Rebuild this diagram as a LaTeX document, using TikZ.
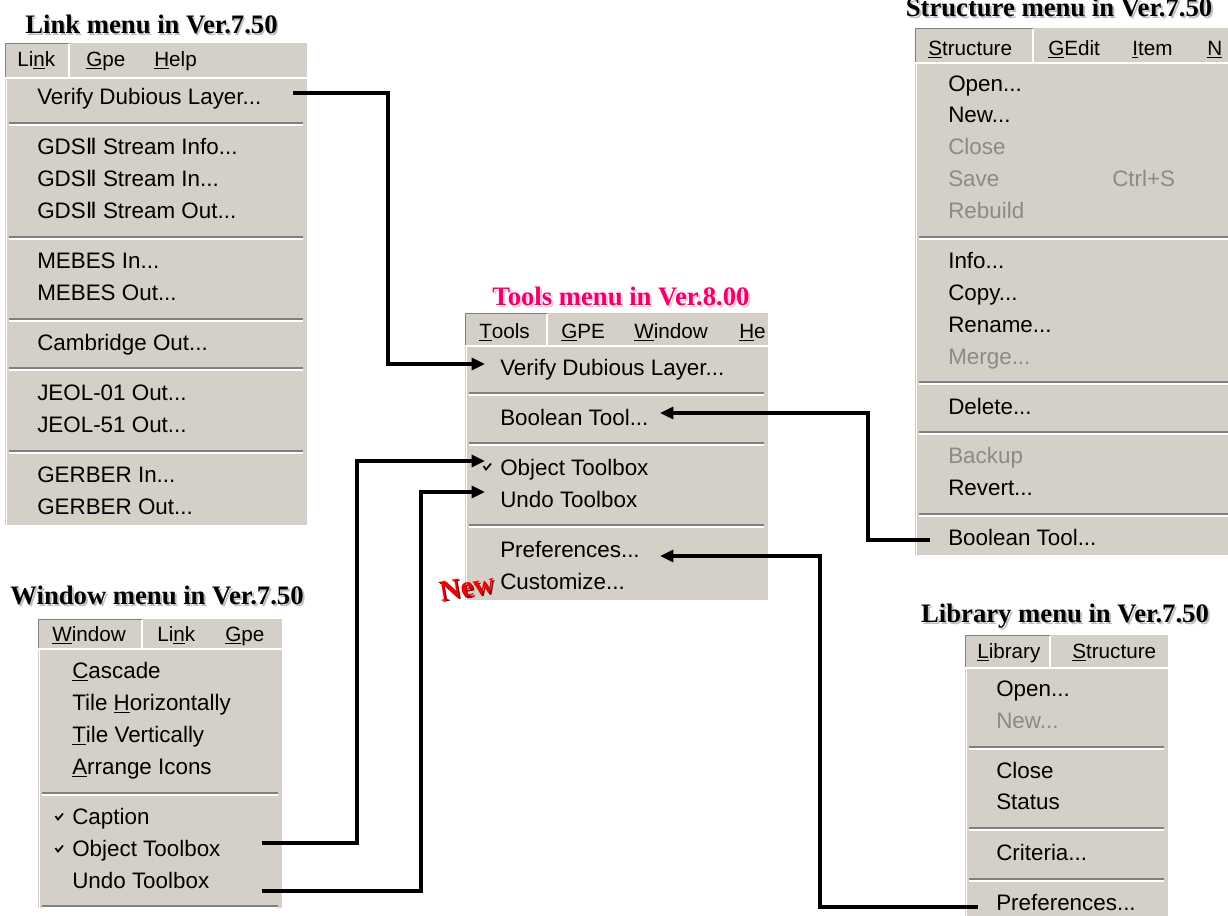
\documentclass[tikz,border=0pt]{standalone}
\usepackage{fontspec}
\setmainfont{Liberation Serif}
\newfontfamily\ui{Liberation Sans}
\newfontfamily\dv{DejaVu Sans}
\usetikzlibrary{arrows.meta}
\definecolor{menugray}{HTML}{D4D0C8}
\definecolor{sepgray}{HTML}{808080}
\definecolor{disgray}{HTML}{8C8A84}
\definecolor{toolpink}{HTML}{F0006C}
\definecolor{newred}{HTML}{F00000}
\newcommand\mn[1]{\underline{#1}}
\newcommand\two{{\dv Ⅱ}}
% x1 x2 bartop barbottom boxright bodybottom
\newcommand\menubox[6]{%
  \fill[menugray] (#1,#3) rectangle (#2,#6);
  \draw[white, line width=1.2pt] (#1,#4+1) -- (#2,#4+1);
  \draw[white, line width=1.2pt] (#5,#3+1) -- (#5,#4);
  \draw[sepgray, line width=0.8pt] (#1+0.5,#4) -- (#1+0.5,#3+0.5) -- (#5,#3+0.5);
  \draw[white, line width=1.2pt] (#1+1.5,#4+2) -- (#1+1.5,#6);
}
\newcommand\msep[3]{%
  \draw[sepgray, line width=1.4pt] (#1,#3) -- (#2,#3);
  \draw[white, line width=1.2pt] (#1,#3+2) -- (#2,#3+2);
}
\newcommand\tick[2]{%
  \draw[black, line width=1.3pt] (#1-3.5,#2-1) -- (#1-1,#2+2.5) -- (#1+4,#2-3.5);
}
\tikzset{
  itemtxt/.style={font=\ui\fontsize{16.8}{20}\selectfont, inner sep=0pt, anchor=base west, text=black},
  distxt/.style={itemtxt, text=disgray},
  bartxt/.style={font=\ui\fontsize{15.5}{18}\selectfont, inner sep=0pt, anchor=base west, text=black},
  title/.style={font=\bfseries\fontsize{20}{24}\selectfont, inner sep=0pt, anchor=base},
  shadowtxt/.style={title, text=black!25},
  newtxt/.style={font=\bfseries\fontsize{22}{26}\selectfont, inner sep=0pt, anchor=base west, rotate=10},
  conn/.style={line width=2.3pt, -{Triangle[length=10pt,width=9pt]}},
}
\begin{document}
\begin{tikzpicture}[x=0.75pt,y=-0.75pt]
\useasboundingbox (0,0) rectangle (1228,915);
\clip (0,0) rectangle (1228,915);
\fill[white] (0,0) rectangle (1228,915);

% ---------------- Link menu ----------------
\node[shadowtxt] (tLinkS) at (153,35) {Link menu in Ver.7.50};
\node[title] (tLink) at (151.5,33) {Link menu in Ver.7.50};
\menubox{5}{307}{43}{77}{69}{525}
\node[bartxt] (lkLink) at (17,66) {Li\mn{n}k};
\node[bartxt] (lkGpe) at (86,66) {\mn{G}pe};
\node[bartxt] (lkHelp) at (154,66) {\mn{H}elp};
\node[itemtxt] (lkVerify) at (37,104) {Verify Dubious Layer...};
\msep{9}{303}{123}
\node[itemtxt] (lkG1) at (37,154) {GDS\two{} Stream Info...};
\node[itemtxt] (lkG2) at (37,186) {GDS\two{} Stream In...};
\node[itemtxt] (lkG3) at (37,218) {GDS\two{} Stream Out...};
\msep{9}{303}{237}
\node[itemtxt] (lkM1) at (37,268) {MEBES In...};
\node[itemtxt] (lkM2) at (37,300) {MEBES Out...};
\msep{9}{303}{319}
\node[itemtxt] (lkC) at (37,350) {Cambridge Out...};
\msep{9}{303}{368}
\node[itemtxt] (lkJ1) at (37,400) {JEOL-01 Out...};
\node[itemtxt] (lkJ2) at (37,432) {JEOL-51 Out...};
\msep{9}{303}{451}
\node[itemtxt] (lkGe1) at (37,482) {GERBER In...};
\node[itemtxt] (lkGe2) at (37,514) {GERBER Out...};

% ---------------- Window menu ----------------
\node[shadowtxt] (tWinS) at (159,606) {Window menu in Ver.7.50};
\node[title] (tWin) at (157,604) {Window menu in Ver.7.50};
\menubox{38}{282}{619}{648}{142}{908}
\node[bartxt] (wWindow) at (52,641) {\mn{W}indow};
\node[bartxt] (wLink) at (157,641) {Li\mn{n}k};
\node[bartxt] (wGpe) at (225,641) {\mn{G}pe};
\node[itemtxt] (wCascade) at (72,678) {\mn{C}ascade};
\node[itemtxt] (wTileH) at (72,710) {Tile \mn{H}orizontally};
\node[itemtxt] (wTileV) at (72,742) {\mn{T}ile Vertically};
\node[itemtxt] (wArr) at (72,774) {\mn{A}rrange Icons};
\msep{42}{278}{793}
\tick{59}{817}
\node[itemtxt] (wCaption) at (72,824) {Caption};
\tick{59}{849}
\node[itemtxt] (wObject) at (72,856) {Object Toolbox};
\node[itemtxt] (wUndo) at (72,888) {Undo Toolbox};
\msep{42}{278}{906}

% ---------------- Tools menu ----------------
\node[shadowtxt, text=toolpink!25] (tToolsS) at (623,307) {Tools menu in Ver.8.00};
\node[title, text=toolpink] (tTools) at (621,305) {Tools menu in Ver.8.00};
\menubox{465}{768}{313}{345}{547}{600}
\node[bartxt] (tlTools) at (479,338) {\mn{T}ools};
\node[bartxt] (tlGPE) at (561,338) {\mn{G}PE};
\node[bartxt] (tlWindow) at (634,338) {\mn{W}indow};
\node[bartxt] (tlHe) at (739,338) {\mn{H}e};
\node[itemtxt] (tlVerify) at (500,375) {Verify Dubious Layer...};
\msep{469}{764}{393}
\node[itemtxt] (tlBool) at (500,425) {Boolean Tool...};
\msep{469}{764}{443}
\tick{487}{467}
\node[itemtxt] (tlObject) at (500,475) {Object Toolbox};
\node[itemtxt] (tlUndo) at (500,507) {Undo Toolbox};
\msep{469}{764}{525}
\node[itemtxt] (tlPref) at (500,557) {Preferences...};
\node[itemtxt] (tlCust) at (500,589) {Customize...};
\node[newtxt, text=newred!60!black] (newS) at (442.5,603) {New};
\node[newtxt, text=newred] (new) at (441,601.5) {New};

% ---------------- Structure menu ----------------
\node[shadowtxt] (tStrS) at (1061,18) {Structure menu in Ver.7.50};
\node[title] (tStr) at (1059,16) {Structure menu in Ver.7.50};
\menubox{915}{1240}{28}{62}{1033}{555}
\node[bartxt] (sStructure) at (928,55) {\mn{S}tructure};
\node[bartxt] (sGEdit) at (1048,55) {\mn{G}Edit};
\node[bartxt] (sItem) at (1132,55) {\mn{I}tem};
\node[bartxt] (sN) at (1207,55) {\mn{N}};
\node[itemtxt] (sOpen) at (948,91) {Open...};
\node[itemtxt] (sNew) at (948,122) {New...};
\node[distxt] (sClose) at (948,154) {Close};
\node[distxt] (sSave) at (948,186) {Save};
\node[distxt] (sCtrl) at (1112,186) {Ctrl+S};
\node[distxt] (sRebuild) at (948,218) {Rebuild};
\msep{919}{1228}{237}
\node[itemtxt] (sInfo) at (948,268) {Info...};
\node[itemtxt] (sCopy) at (948,300) {Copy...};
\node[itemtxt] (sRename) at (948,332) {Rename...};
\node[distxt] (sMerge) at (948,364) {Merge...};
\msep{919}{1228}{382}
\node[itemtxt] (sDelete) at (948,414) {Delete...};
\msep{919}{1228}{432}
\node[distxt] (sBackup) at (948,463) {Backup};
\node[itemtxt] (sRevert) at (948,495) {Revert...};
\msep{919}{1228}{514}
\node[itemtxt] (sBool) at (948,545) {Boolean Tool...};

% ---------------- Library menu ----------------
\node[shadowtxt] (tLibS) at (1067,624) {Library menu in Ver.7.50};
\node[title] (tLib) at (1065,622) {Library menu in Ver.7.50};
\menubox{965}{1168}{635}{667}{1050}{920}
\node[bartxt] (lbLibrary) at (977,658) {\mn{L}ibrary};
\node[bartxt] (lbStructure) at (1072,658) {\mn{S}tructure};
\node[itemtxt] (lbOpen) at (996,696) {Open...};
\node[distxt] (lbNew) at (996,728) {New...};
\msep{969}{1164}{747}
\node[itemtxt] (lbClose) at (996,778) {Close};
\node[itemtxt] (lbStatus) at (996,809) {Status};
\msep{969}{1164}{828}
\node[itemtxt] (lbCriteria) at (996,860) {Criteria...};
\msep{969}{1164}{879}
\node[itemtxt] (lbPref) at (996,910) {Preferences...};

% ---------------- connectors ----------------
\coordinate (c1s) at (293,93);
\coordinate (c1e) at (485,364);
\coordinate (c2s) at (930,540);
\coordinate (c2e) at (660,413);
\coordinate (c3s) at (262,843);
\coordinate (c3e) at (485,461);
\coordinate (c4s) at (262,891);
\coordinate (c4e) at (485,492);
\coordinate (c5s) at (978,907);
\coordinate (c5e) at (660,556);
\draw[conn] (c1s) -- (388,93) -- (388,364) -- (c1e);
\draw[conn] (c2s) -- (868,540) -- (868,413) -- (c2e);
\draw[conn] (c3s) -- (357,843) -- (357,461) -- (c3e);
\draw[conn] (c4s) -- (421,891) -- (421,492) -- (c4e);
\draw[conn] (c5s) -- (820,907) -- (820,556) -- (c5e);
\end{tikzpicture}
\end{document}
